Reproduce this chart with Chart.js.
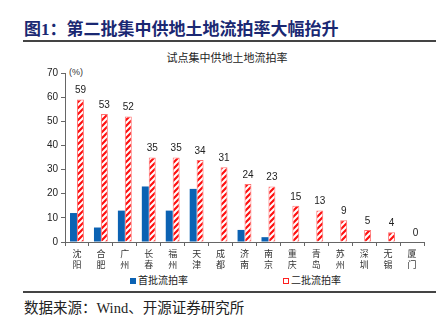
<!DOCTYPE html>
<html>
<head>
<meta charset="utf-8">
<script src="https://cdn.jsdelivr.net/npm/chart.js@4.4.0/dist/chart.umd.min.js"></script>
<style>
  body { margin: 0; width: 436px; height: 325px; background: #fff; position: relative; overflow: hidden;
         font-family: "Liberation Serif", "Noto Sans CJK SC", serif; }
  .abs { position: absolute; white-space: nowrap; }
  #title { left: 24px; top: 15px; font-size: 17px; font-weight: bold; color: #1a2872; font-family: "Liberation Serif", "Noto Sans CJK SC", serif; }
  .rule { position: absolute; left: 23px; right: 0; height: 1.5px; background: #444; }
  #ctitle { left: 0; width: 436px; text-align: center; top: 49px; font-size: 11px; color: #222; padding-left: 18px; box-sizing: border-box; }
  #unit { left: 69px; top: 67px; font-size: 9px; color: #333; font-family: "Liberation Sans", Arial, sans-serif; }
  .leg { top: 272px; font-size: 10px; color: #222; }
  .sw { display: inline-block; width: 6px; height: 6px; margin-right: 2px; vertical-align: 0px; box-sizing: border-box; }
  #source { left: 24px; top: 296px; font-size: 14.5px; color: #222; }
  #wrap { position: absolute; left: 0; top: 60px; width: 436px; height: 210px; }
</style>
</head>
<body>
<div id="title" class="abs">图1：第二批集中供地土地流拍率大幅抬升</div>
<div class="rule" style="top:40px"></div>
<div id="ctitle" class="abs">试点集中供地土地流拍率</div>
<div id="unit" class="abs">(%)</div>
<div id="wrap"><canvas id="chart"></canvas></div>
<div class="abs leg" style="left:130px"><span class="sw" style="background:#0b62b3"></span>首批流拍率</div>
<div class="abs leg" style="left:283px"><span class="sw" style="border:1px solid #ff2020;background:#fff"></span>二批流拍率</div>
<div class="rule" style="top:291px"></div>
<div id="source" class="abs">数据来源：Wind、开源证券研究所</div>
<script>
const cities = [['沈','阳'], ['合','肥'], ['广','州'], ['长','春'], ['福','州'], ['天','津'], ['成','都'], ['济','南'],
                ['南','京'], ['重','庆'], ['青','岛'], ['苏','州'], ['深','圳'], ['无','锡'], ['厦','门']];
const firstRound = [12, 6, 13, 23, 13, 22, 0, 5, 2, 0, 0, 0, 0, 0, 0];
const secondRound = [59, 53, 52, 35, 35, 34, 31, 24, 23, 15, 13, 9, 5, 4, 0];
const yTicks = [0, 10, 20, 30, 40, 50, 60, 70];

function stripePattern() {
    const c = document.createElement('canvas');
    c.width = 6; c.height = 6;
    const g = c.getContext('2d');
    g.fillStyle = '#fff';
    g.fillRect(0, 0, 6, 6);
    g.strokeStyle = '#ff1010';
    g.lineWidth = 2.2;
    g.beginPath();
    g.moveTo(-1, 7); g.lineTo(7, -1);
    g.moveTo(-4, 4); g.lineTo(4, -4);
    g.moveTo(2, 10); g.lineTo(10, 2);
    g.stroke();
    return g.createPattern(c, 'repeat');
}

const valueLabels = {
    id: 'valueLabels',
    afterDatasetsDraw(chart) {
        const ctx = chart.ctx;
        const meta = chart.getDatasetMeta(1);
        ctx.save();
        ctx.font = '10px "Liberation Sans", Arial, sans-serif';
        ctx.fillStyle = '#222';
        ctx.textAlign = 'center';
        ctx.textBaseline = 'middle';
        meta.data.forEach((bar, i) => {
            ctx.fillText(String(secondRound[i]), bar.x, bar.y - 9);
        });
        ctx.restore();
    }
};

const ctx = document.getElementById('chart').getContext('2d');
new Chart(ctx, {
    type: 'bar',
    data: {
        labels: cities,
        datasets: [{
            label: '首批流拍率',
            data: firstRound,
            backgroundColor: '#0b62b3',
            borderWidth: 0,
            categoryPercentage: 0.58,
            barPercentage: 1
        }, {
            label: '二批流拍率',
            data: secondRound,
            backgroundColor: stripePattern(),
            borderColor: '#ff7070',
            borderWidth: 1,
            categoryPercentage: 0.58,
            barPercentage: 1
        }]
    },
    options: {
        responsive: true,
        maintainAspectRatio: false,
        animation: false,
        layout: { padding: { left: 20, right: 12, top: 13, bottom: 0 } },
        plugins: { legend: { display: false }, tooltip: { enabled: false } },
        scales: {
            x: {
                afterFit(scale) { scale.height = 28; },
                grid: { drawOnChartArea: false, offset: true, tickLength: 4, color: '#666' },
                border: { color: '#666', width: 1 },
                ticks: {
                    color: '#333',
                    padding: 2,
                    maxRotation: 0,
                    autoSkip: false,
                    font: { size: 9, family: '"Noto Sans CJK SC", serif', lineHeight: 1.25 }
                }
            },
            y: {
                min: 0,
                max: 70,
                afterFit(scale) { scale.width = 45; },
                afterBuildTicks(scale) { scale.ticks = yTicks.map(v => ({ value: v })); },
                grid: { drawOnChartArea: false, tickLength: 4, color: '#666' },
                border: { color: '#666', width: 1 },
                ticks: {
                    color: '#222',
                    padding: 3,
                    font: { size: 10, family: '"Liberation Sans", Arial, sans-serif' }
                }
            }
        }
    },
    plugins: [valueLabels]
});
</script>
</body>
</html>
